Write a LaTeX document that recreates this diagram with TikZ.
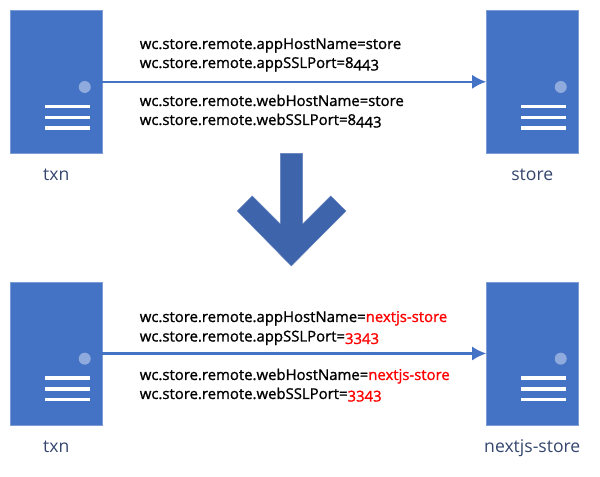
\documentclass[tikz,border=0pt]{standalone}
\usepackage{fontspec}
\setmainfont[Numbers=OldStyle]{Open Sans}
\usetikzlibrary{positioning,arrows.meta}
\definecolor{serverblue}{HTML}{4472C4}
\definecolor{arrowblue}{HTML}{3E64AC}
\definecolor{lampblue}{HTML}{8FAADC}
\definecolor{labelnavy}{HTML}{34466E}
\tikzset{
    server/.style={draw=serverblue!70!white,fill=serverblue,line width=0.3pt,inner sep=0pt,minimum width=2.29cm,minimum height=3.575cm},
    srvlabel/.style={text=labelnavy,font=\fontsize{12.5}{14}\selectfont,inner sep=0pt,text height=9pt,text depth=3pt},
    prop/.style={anchor=base west,inner sep=0pt,font=\fontsize{10.6}{12}\selectfont\addfontfeatures{FakeBold=1.2}},
    link/.style={draw=serverblue,line width=1.45pt,-{Latex[length=0.35cm,width=0.35cm]}},
}
\newcommand{\newval}[1]{\textcolor{red}{#1}}
\begin{document}
\begin{tikzpicture}[x=0.025cm,y=-0.025cm]
    \useasboundingbox (0,0) rectangle (600,477);
    % servers
    \node[server] (txnA) at (56.25,81.8) {};
    \node[server] (storeA) at (532.25,81.8) {};
    \node[server] (txnB) at (56.25,353.5) {};
    \node[server] (storeB) at (532.25,353.5) {};
    \foreach \srv in {txnA,storeA,txnB,storeB} {
        \fill[lampblue] ([xshift=0.7125cm,yshift=-0.13cm]\srv.center) circle (6);
        \foreach \dy in {0.6125,0.8875,1.155} {
            \draw[white,line width=2.3pt] ([xshift=-0.275cm,yshift=-\dy cm]\srv.center) -- ([xshift=0.8425cm,yshift=-\dy cm]\srv.center);
        }
    }
    % server names
    \node[srvlabel,below=0.36cm of txnA] (txnAname) {txn};
    \node[srvlabel,below=0.36cm of storeA] (storeAname) {store};
    \node[srvlabel,below=0.36cm of txnB] (txnBname) {txn};
    \node[srvlabel,below=0.36cm of storeB] (storeBname) {nextjs-store};
    % connections
    \draw[link] (txnA) -- (storeA);
    \draw[link] (txnB) -- (storeB);
    % properties, before
    \node[prop] (appHostA) at (139.5,49) {wc.store.remote.appHostName=store};
    \node[prop] (appPortA) at (139.5,68) {wc.store.remote.appSSLPort=8443};
    \node[prop] (webHostA) at (139.5,106) {wc.store.remote.webHostName=store};
    \node[prop] (webPortA) at (139.5,125) {wc.store.remote.webSSLPort=8443};
    % properties, after
    \node[prop] (appHostB) at (139.5,322) {wc.store.remote.appHostName=\newval{nextjs-store}};
    \node[prop] (appPortB) at (139.5,341.5) {wc.store.remote.appSSLPort=\newval{3343}};
    \node[prop] (webHostB) at (139.5,380) {wc.store.remote.webHostName=\newval{nextjs-store}};
    \node[prop] (webPortB) at (139.5,399) {wc.store.remote.webSSLPort=\newval{3343}};
    % big arrow
    \draw[fill=arrowblue,draw=arrowblue!80!white,line width=0.3pt] (280.3,153.3) -- (302.7,153.3) -- (302.7,224) -- (330.7,196) -- (346,211) -- (291.3,266) -- (237.3,211) -- (252.3,196) -- (280.3,224) -- cycle;
\end{tikzpicture}
\end{document}
